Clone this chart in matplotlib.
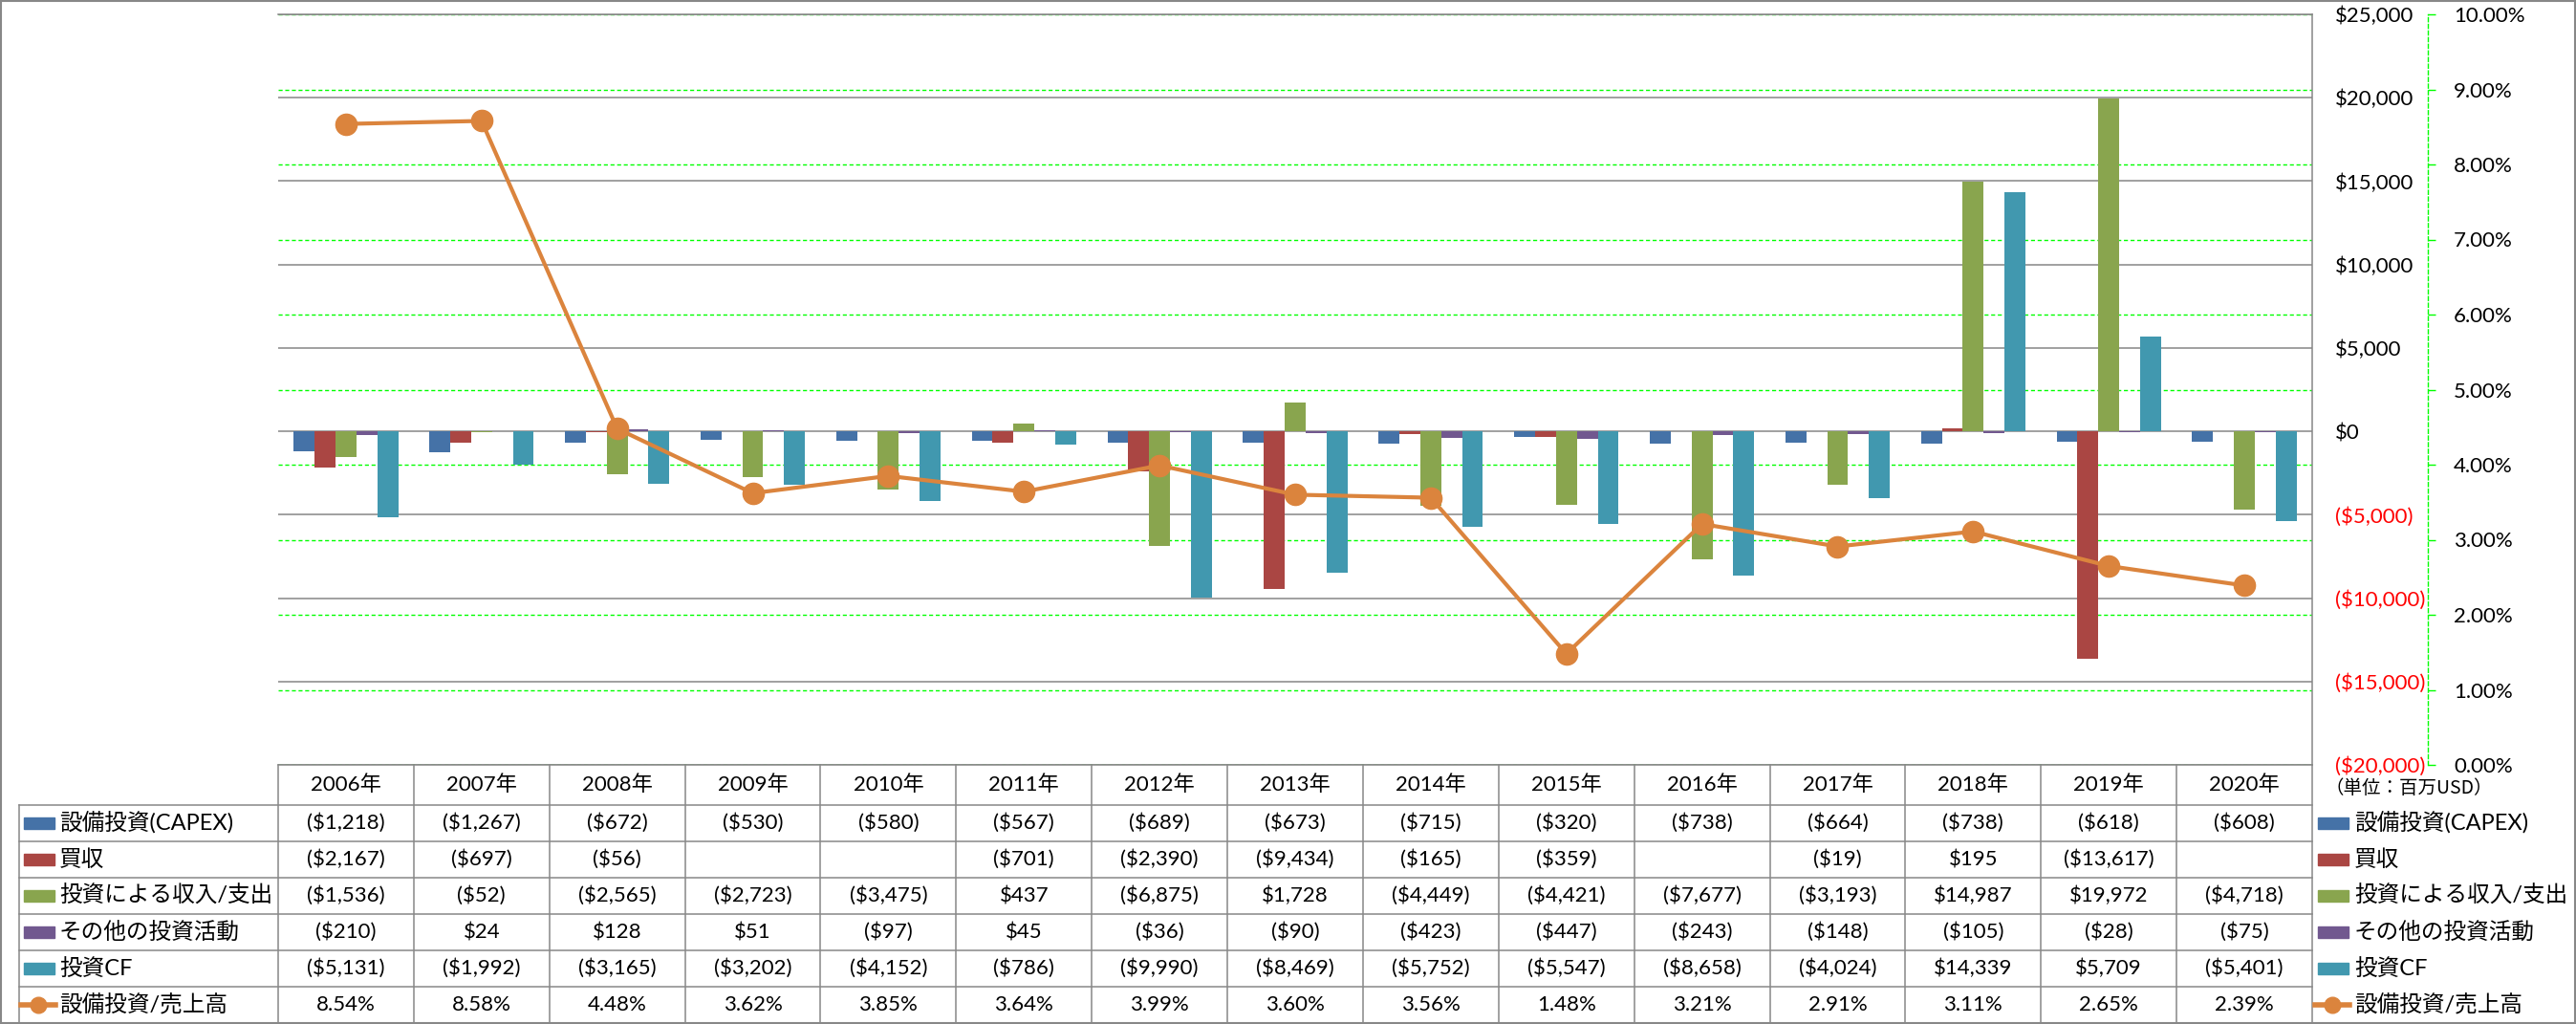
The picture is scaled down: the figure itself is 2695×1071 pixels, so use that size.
import numpy as np
import matplotlib
matplotlib.use("Agg")
import matplotlib.pyplot as plt
from matplotlib.patches import Rectangle

plt.rcParams['font.family'] = ['Lato', 'Noto Sans CJK JP', 'DejaVu Sans']

years = [2006, 2007, 2008, 2009, 2010, 2011, 2012, 2013, 2014, 2015, 2016, 2017, 2018, 2019, 2020]
nan = np.nan
capex = [-1218, -1267, -672, -530, -580, -567, -689, -673, -715, -320, -738, -664, -738, -618, -608]
acquisition = [-2167, -697, -56, nan, nan, -701, -2390, -9434, -165, -359, nan, -19, 195, -13617, nan]
invest_inout = [-1536, -52, -2565, -2723, -3475, 437, -6875, 1728, -4449, -4421, -7677, -3193, 14987, 19972, -4718]
other_invest = [-210, 24, 128, 51, -97, 45, -36, -90, -423, -447, -243, -148, -105, -28, -75]
invest_cf = [-5131, -1992, -3165, -3202, -4152, -786, -9990, -8469, -5752, -5547, -8658, -4024, 14339, 5709, -5401]
capex_ratio = [8.54, 8.58, 4.48, 3.62, 3.85, 3.64, 3.99, 3.60, 3.56, 1.48, 3.21, 2.91, 3.11, 2.65, 2.39]

bar_names = ['設備投資(CAPEX)', '買収', '投資による収入/支出', 'その他の投資活動', '投資CF']
bar_colors = ['#4572A7', '#AA4643', '#89A54E', '#71588F', '#4198AF']
bar_data = [capex, acquisition, invest_inout, other_invest, invest_cf]
line_name = '設備投資/売上高'
line_color = '#DB843D'
unit_text = '（単位：百万USD）'


def money(v):
    if v is None or np.isnan(v):
        return ''
    if v < 0:
        return '(${:,.0f})'.format(-v)
    return '${:,.0f}'.format(v)


W, H = 2695, 1071
fig = plt.figure(figsize=(W / 100, H / 100), dpi=100)
L, R, T, B = 291, 2419, 15, 800
ax = fig.add_axes([L / W, 1 - B / H, (R - L) / W, (B - T) / H])
ax2 = ax.twinx()
ax.set_zorder(2)
ax2.set_zorder(1)
ax.patch.set_visible(False)

x = np.arange(len(years))
bw = 0.154
for i, (vals, col) in enumerate(zip(bar_data, bar_colors)):
    ax.bar(x + (i - 2) * bw, np.array(vals, dtype=float), bw, color=col, zorder=2)

# ratio line drawn in the bar axes but on the percent scale, so it sits above the bars
ax.plot(x, np.array(capex_ratio) / 100, color=line_color, lw=3, marker='o', ms=16,
        transform=ax2.transData, zorder=5, clip_on=False)

ax.set_xlim(-0.5, len(years) - 0.5)
ax.set_xticks([])
ax.set_ylim(-20000, 25000)
dticks = list(range(-20000, 25001, 5000))
ax.set_yticks(dticks, labels=[money(t) for t in dticks])
ax.yaxis.tick_right()
ax.tick_params(axis='y', length=0, pad=17.3, labelsize=16)
for lbl, t in zip(ax.get_yticklabels(), dticks):
    lbl.set_color('#FF0000' if t < 0 else 'black')
ax.grid(axis='y', color='#868686', lw=1.1)
ax.set_axisbelow(True)
for s in ['left', 'bottom']:
    ax.spines[s].set_visible(False)
for s in ['right', 'top']:
    ax.spines[s].set_color('#868686')
    ax.spines[s].set_linewidth(1.1)

ax2.set_ylim(0, 0.10)
pticks = np.arange(0, 0.1001, 0.01)
ax2.set_yticks(pticks, labels=['{:.2f}%'.format(p * 100) for p in pticks])
ax2.tick_params(axis='y', color='#00FF00', length=5.8, width=1, pad=13.7, labelsize=16)
ax2.grid(axis='y', color='#00FF00', linestyle=(0, (3, 2)), lw=1)
for s in ['left', 'top', 'bottom']:
    ax2.spines[s].set_visible(False)
ax2.spines['right'].set_position(('outward', 87))
ax2.spines['right'].set_color('#00FF00')
ax2.spines['right'].set_linestyle((0, (3, 2)))
ax2.spines['right'].set_linewidth(1)

# data table below the plot, laid out in pixel coordinates
tab = fig.add_axes([0, 0, 1, 1])
tab.set_xlim(0, W)
tab.set_ylim(H, 0)
tab.axis('off')
gc = '#888888'
col_w = (R - L) / len(years)
rows = [800, 842, 880, 918, 956, 994, 1032, 1070]
tab.plot([L, R], [rows[0], rows[0]], color=gc, lw=1.1)
for y in rows[1:]:
    tab.plot([20, R], [y, y], color=gc, lw=1.1)
tab.plot([20, 20], [rows[1], rows[-1]], color=gc, lw=1.1)
for k in range(len(years) + 1):
    xx = L + k * col_w
    tab.plot([xx, xx], [rows[0], rows[-1]], color=gc, lw=1.1)

for k, yr in enumerate(years):
    tab.text(L + (k + 0.5) * col_w, (rows[0] + rows[1]) / 2, f'{yr}年',
             ha='center', va='center', fontsize=16)

row_centers = [(rows[i] + rows[i + 1]) / 2 for i in range(1, 7)]
for r, vals in enumerate(bar_data):
    yc = row_centers[r]
    for k, v in enumerate(vals):
        tab.text(L + (k + 0.5) * col_w, yc, money(v), ha='center', va='center', fontsize=16)
for k, v in enumerate(capex_ratio):
    tab.text(L + (k + 0.5) * col_w, row_centers[5], '{:.2f}%'.format(v),
             ha='center', va='center', fontsize=16)

# row labels (left) and legend (right)
for x0, tx in [(25, 62), (2425, 2463)]:
    for r, (name, col) in enumerate(zip(bar_names, bar_colors)):
        yc = row_centers[r]
        tab.add_patch(Rectangle((x0, yc - 6), 32, 12, color=col))
        tab.text(tx, yc, name, ha='left', va='center', fontsize=17)
    yc = row_centers[5]
    tab.plot([x0 - 3, x0 + 33], [yc, yc], color=line_color, lw=4)
    tab.plot([x0 + 15], [yc], marker='o', ms=12, color=line_color)
    tab.text(tx, yc, line_name, ha='left', va='center', fontsize=17)

tab.text(2433, 825, unit_text, ha='left', va='center', fontsize=14, family=['Noto Sans CJK JP'])

tab.add_patch(Rectangle((1, 1), W - 2.5, H - 2.5, fill=False, ec=gc, lw=1.5))

fig.savefig('out.png', dpi=100)
